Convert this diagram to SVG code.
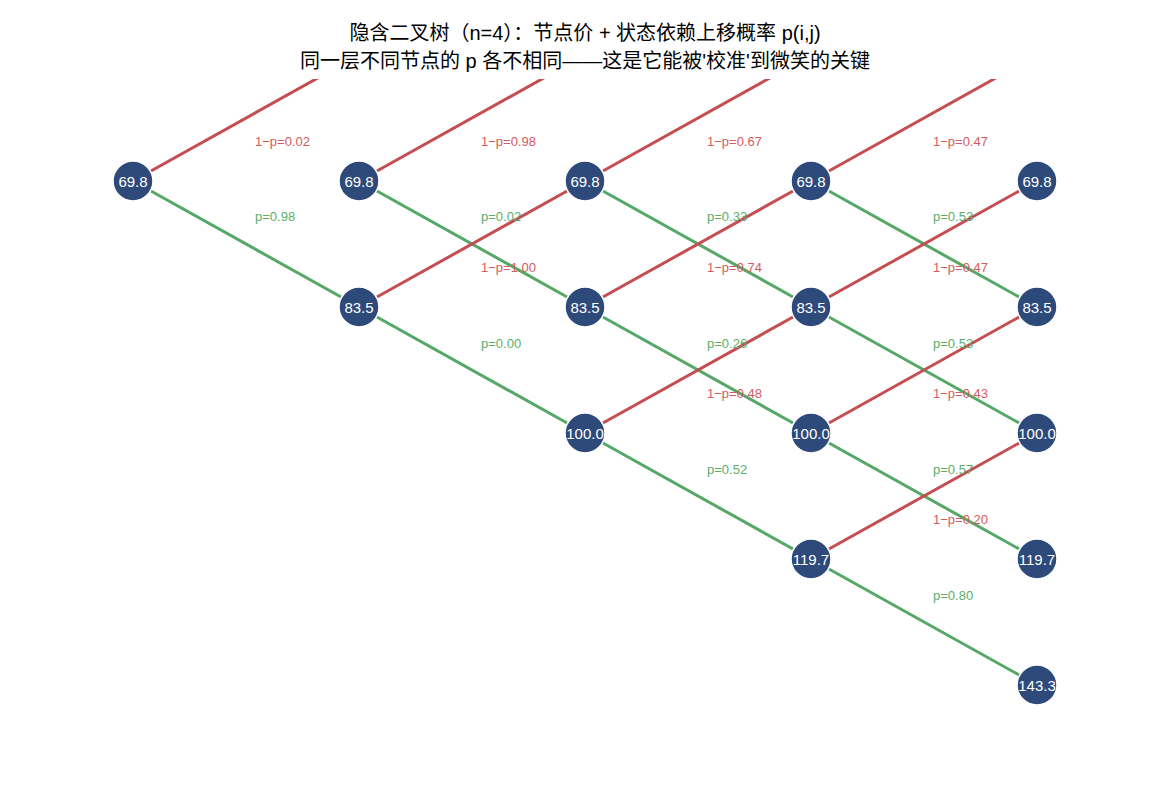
<svg xmlns="http://www.w3.org/2000/svg" width="1170" height="806" viewBox="0 0 1170 806">
<style>
.up{stroke:#c44e52;stroke-width:3;fill:none}
.dn{stroke:#55a868;stroke-width:3;fill:none}
.lu{fill:#d45a5e;font-family:"Liberation Sans",Arial,sans-serif;font-size:13px}
.ld{fill:#5aae6c;font-family:"Liberation Sans",Arial,sans-serif;font-size:13px}
.nd circle{fill:#2e4a7a;stroke:#ffffff;stroke-width:1.5}
.nd text{fill:#ffffff;font-family:"Liberation Sans",Arial,sans-serif;font-size:15px;text-anchor:middle;dominant-baseline:central}
.title{fill:#000;font-family:"Liberation Sans","Noto Sans CJK SC",sans-serif;font-size:20px;text-anchor:middle}
</style>
<defs><clipPath id="ax"><rect x="0" y="79" width="1170" height="727"/></clipPath></defs>
<rect width="1170" height="806" fill="#fff"/>
<text class="title" x="585" y="40">隐含二叉树（n=4）：节点价 + 状态依赖上移概率 p(i,j)</text>
<text class="title" x="585" y="68">同一层不同节点的 p 各不相同——这是它能被'校准'到微笑的关键</text>
<g id="connectors" clip-path="url(#ax)">
<line class="up" x1="133" y1="181" x2="359" y2="55"/><line class="dn" x1="133" y1="181" x2="359" y2="307"/>
<line class="up" x1="359" y1="181" x2="585" y2="55"/><line class="dn" x1="359" y1="181" x2="585" y2="307"/>
<line class="up" x1="359" y1="307" x2="585" y2="181"/><line class="dn" x1="359" y1="307" x2="585" y2="433"/>
<line class="up" x1="585" y1="181" x2="811" y2="55"/><line class="dn" x1="585" y1="181" x2="811" y2="307"/>
<line class="up" x1="585" y1="307" x2="811" y2="181"/><line class="dn" x1="585" y1="307" x2="811" y2="433"/>
<line class="up" x1="585" y1="433" x2="811" y2="307"/><line class="dn" x1="585" y1="433" x2="811" y2="559"/>
<line class="up" x1="811" y1="181" x2="1037" y2="55"/><line class="dn" x1="811" y1="181" x2="1037" y2="307"/>
<line class="up" x1="811" y1="307" x2="1037" y2="181"/><line class="dn" x1="811" y1="307" x2="1037" y2="433"/>
<line class="up" x1="811" y1="433" x2="1037" y2="307"/><line class="dn" x1="811" y1="433" x2="1037" y2="559"/>
<line class="up" x1="811" y1="559" x2="1037" y2="433"/><line class="dn" x1="811" y1="559" x2="1037" y2="685"/>
</g>
<g id="labels">
<text class="lu" x="255" y="146">1−p=0.02</text><text class="ld" x="255" y="221">p=0.98</text>
<text class="lu" x="481" y="146">1−p=0.98</text><text class="ld" x="481" y="221">p=0.02</text>
<text class="lu" x="481" y="272">1−p=1.00</text><text class="ld" x="481" y="348">p=0.00</text>
<text class="lu" x="707" y="146">1−p=0.67</text><text class="ld" x="707" y="221">p=0.33</text>
<text class="lu" x="707" y="272">1−p=0.74</text><text class="ld" x="707" y="348">p=0.26</text>
<text class="lu" x="707" y="398">1−p=0.48</text><text class="ld" x="707" y="474">p=0.52</text>
<text class="lu" x="933" y="146">1−p=0.47</text><text class="ld" x="933" y="221">p=0.53</text>
<text class="lu" x="933" y="272">1−p=0.47</text><text class="ld" x="933" y="348">p=0.53</text>
<text class="lu" x="933" y="398">1−p=0.43</text><text class="ld" x="933" y="474">p=0.57</text>
<text class="lu" x="933" y="524">1−p=0.20</text><text class="ld" x="933" y="600">p=0.80</text>
</g>
<g id="n00" class="nd"><circle cx="133" cy="181" r="20"/><text x="133" y="181">69.8</text></g>
<g id="n10" class="nd"><circle cx="359" cy="181" r="20"/><text x="359" y="181">69.8</text></g>
<g id="n11" class="nd"><circle cx="359" cy="307" r="20"/><text x="359" y="307">83.5</text></g>
<g id="n20" class="nd"><circle cx="585" cy="181" r="20"/><text x="585" y="181">69.8</text></g>
<g id="n21" class="nd"><circle cx="585" cy="307" r="20"/><text x="585" y="307">83.5</text></g>
<g id="n22" class="nd"><circle cx="585" cy="433" r="20"/><text x="585" y="433">100.0</text></g>
<g id="n30" class="nd"><circle cx="811" cy="181" r="20"/><text x="811" y="181">69.8</text></g>
<g id="n31" class="nd"><circle cx="811" cy="307" r="20"/><text x="811" y="307">83.5</text></g>
<g id="n32" class="nd"><circle cx="811" cy="433" r="20"/><text x="811" y="433">100.0</text></g>
<g id="n33" class="nd"><circle cx="811" cy="559" r="20"/><text x="811" y="559">119.7</text></g>
<g id="n40" class="nd"><circle cx="1037" cy="181" r="20"/><text x="1037" y="181">69.8</text></g>
<g id="n41" class="nd"><circle cx="1037" cy="307" r="20"/><text x="1037" y="307">83.5</text></g>
<g id="n42" class="nd"><circle cx="1037" cy="433" r="20"/><text x="1037" y="433">100.0</text></g>
<g id="n43" class="nd"><circle cx="1037" cy="559" r="20"/><text x="1037" y="559">119.7</text></g>
<g id="n44" class="nd"><circle cx="1037" cy="685" r="20"/><text x="1037" y="685">143.3</text></g>
</svg>
